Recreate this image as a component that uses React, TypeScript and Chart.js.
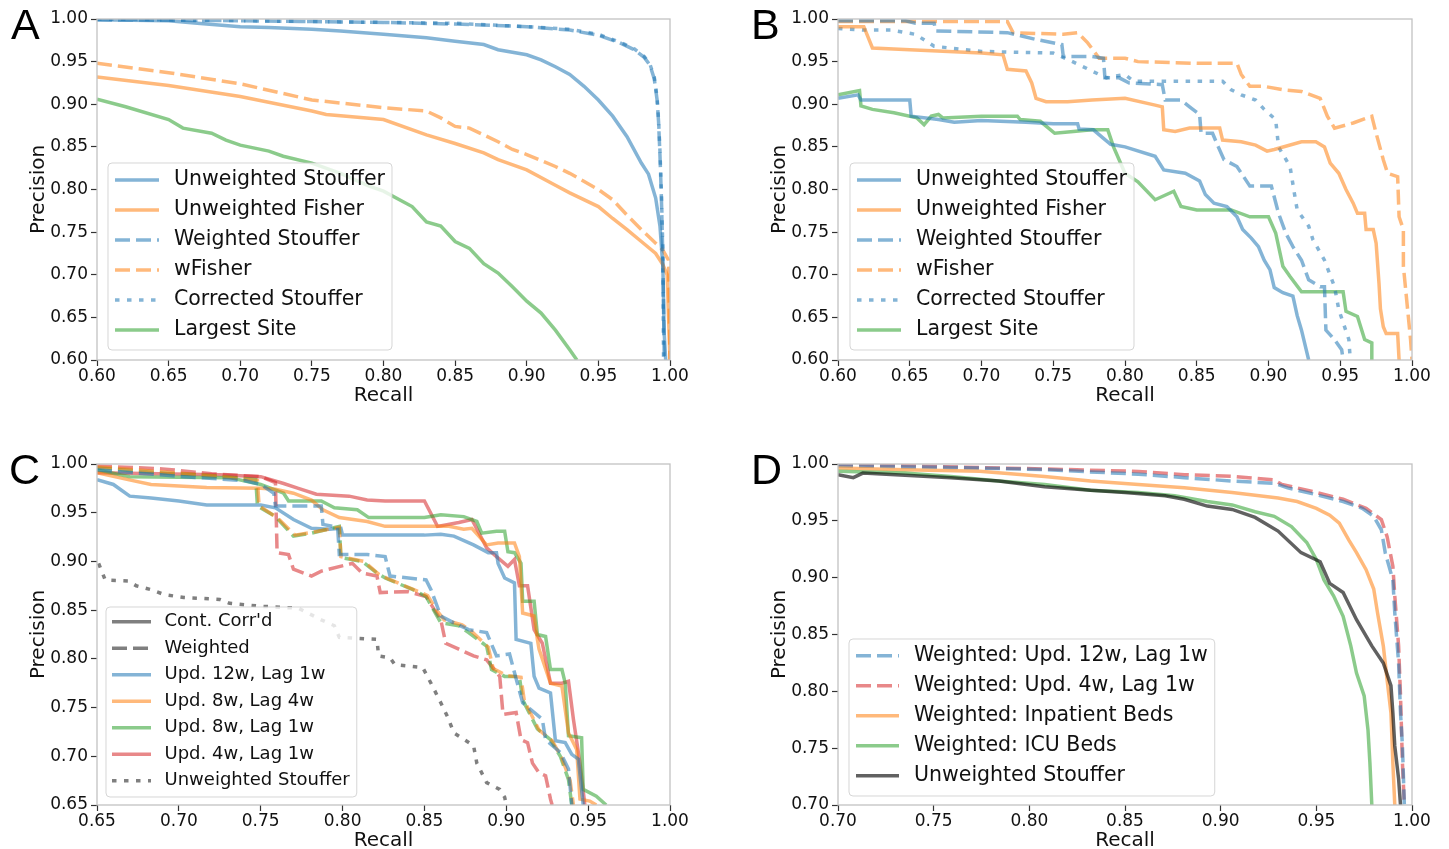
import React, { useEffect, useRef } from 'react';
import { Chart, registerables } from 'chart.js';

Chart.register(...registerables);

type P = [number, number];

// ---------------- Panel A ----------------
const A_UNW_STOUFFER: P[] = [[0.600,0.999],[0.650,0.998],[0.670,0.995],[0.700,0.991],[0.720,0.990],[0.750,0.988],[0.770,0.986],[0.800,0.982],[0.830,0.978],[0.850,0.974],[0.870,0.970],[0.880,0.964],[0.900,0.958],[0.910,0.952],[0.920,0.944],[0.930,0.935],[0.940,0.921],[0.950,0.905],[0.960,0.886],[0.970,0.862],[0.980,0.831],[0.985,0.818],[0.990,0.790],[0.993,0.757],[0.995,0.710],[0.996,0.630],[0.997,0.600]];
const A_UNW_FISHER: P[] = [[0.600,0.932],[0.650,0.922],[0.700,0.909],[0.750,0.892],[0.760,0.888],[0.800,0.882],[0.830,0.864],[0.850,0.854],[0.870,0.843],[0.880,0.835],[0.900,0.823],[0.920,0.805],[0.930,0.796],[0.950,0.780],[0.960,0.766],[0.970,0.753],[0.980,0.739],[0.990,0.725],[0.995,0.712],[0.998,0.700],[0.999,0.650],[1.000,0.600]];
const A_W_STOUFFER: P[] = [[0.600,0.999],[0.700,0.998],[0.750,0.997],[0.800,0.996],[0.850,0.994],[0.900,0.991],[0.930,0.987],[0.950,0.981],[0.965,0.972],[0.975,0.964],[0.982,0.955],[0.986,0.946],[0.989,0.930],[0.991,0.905],[0.992,0.880],[0.993,0.840],[0.994,0.790],[0.995,0.720],[0.996,0.600]];
const A_WFISHER: P[] = [[0.600,0.948],[0.650,0.937],[0.700,0.924],[0.750,0.905],[0.800,0.896],[0.830,0.892],[0.840,0.884],[0.850,0.874],[0.860,0.872],[0.870,0.864],[0.880,0.856],[0.890,0.847],[0.900,0.841],[0.920,0.827],[0.930,0.819],[0.950,0.800],[0.960,0.788],[0.970,0.770],[0.980,0.753],[0.990,0.737],[0.995,0.729],[0.999,0.717],[1.000,0.600]];
const A_CORR_STOUFFER: P[] = [[0.600,1.000],[0.700,0.998],[0.800,0.996],[0.850,0.995],[0.900,0.991],[0.930,0.988],[0.950,0.982],[0.965,0.973],[0.975,0.965],[0.982,0.956],[0.986,0.947],[0.989,0.932],[0.991,0.908],[0.992,0.882],[0.993,0.845],[0.994,0.795],[0.995,0.730],[0.9955,0.600]];
const A_LARGEST: P[] = [[0.600,0.906],[0.620,0.897],[0.650,0.882],[0.660,0.872],[0.680,0.866],[0.690,0.858],[0.700,0.852],[0.720,0.845],[0.730,0.839],[0.750,0.831],[0.770,0.819],[0.790,0.804],[0.800,0.798],[0.820,0.780],[0.830,0.762],[0.840,0.757],[0.850,0.739],[0.860,0.731],[0.870,0.713],[0.880,0.702],[0.890,0.686],[0.900,0.669],[0.910,0.655],[0.920,0.635],[0.930,0.612],[0.935,0.600]];

// ---------------- Panel B ----------------
const B_UNW_STOUFFER: P[] = [[0.600,0.907],[0.614,0.911],[0.616,0.905],[0.650,0.905],[0.651,0.886],[0.670,0.882],[0.681,0.879],[0.700,0.881],[0.731,0.879],[0.750,0.877],[0.767,0.877],[0.768,0.871],[0.778,0.870],[0.785,0.860],[0.790,0.853],[0.800,0.850],[0.821,0.839],[0.827,0.823],[0.842,0.819],[0.852,0.810],[0.856,0.794],[0.862,0.784],[0.871,0.780],[0.878,0.768],[0.882,0.753],[0.888,0.743],[0.893,0.733],[0.897,0.717],[0.901,0.706],[0.904,0.685],[0.910,0.679],[0.917,0.675],[0.920,0.652],[0.923,0.635],[0.928,0.600]];
const B_UNW_FISHER: P[] = [[0.600,0.991],[0.618,0.991],[0.624,0.966],[0.650,0.964],[0.700,0.960],[0.715,0.958],[0.718,0.941],[0.731,0.939],[0.735,0.925],[0.738,0.907],[0.745,0.903],[0.760,0.903],[0.777,0.905],[0.800,0.907],[0.821,0.899],[0.826,0.897],[0.827,0.870],[0.835,0.868],[0.845,0.872],[0.866,0.872],[0.868,0.858],[0.881,0.856],[0.891,0.852],[0.899,0.845],[0.904,0.847],[0.923,0.856],[0.933,0.856],[0.939,0.850],[0.943,0.831],[0.949,0.819],[0.954,0.800],[0.959,0.784],[0.962,0.772],[0.967,0.772],[0.968,0.753],[0.973,0.753],[0.975,0.737],[0.977,0.690],[0.978,0.660],[0.980,0.639],[0.982,0.631],[0.990,0.631],[0.991,0.600]];
const B_W_STOUFFER: P[] = [[0.600,0.998],[0.647,0.998],[0.654,0.995],[0.667,0.995],[0.668,0.986],[0.718,0.984],[0.728,0.980],[0.738,0.976],[0.756,0.970],[0.757,0.956],[0.777,0.956],[0.785,0.954],[0.786,0.931],[0.796,0.931],[0.803,0.925],[0.826,0.923],[0.828,0.905],[0.839,0.905],[0.845,0.897],[0.852,0.888],[0.853,0.866],[0.861,0.866],[0.865,0.850],[0.869,0.835],[0.878,0.827],[0.887,0.804],[0.902,0.804],[0.907,0.772],[0.912,0.749],[0.917,0.733],[0.923,0.717],[0.928,0.694],[0.936,0.686],[0.939,0.686],[0.940,0.635],[0.946,0.624],[0.951,0.612],[0.952,0.600]];
const B_WFISHER: P[] = [[0.600,0.997],[0.718,0.997],[0.722,0.984],[0.757,0.982],[0.767,0.984],[0.774,0.972],[0.782,0.954],[0.800,0.954],[0.809,0.950],[0.850,0.948],[0.878,0.948],[0.881,0.935],[0.887,0.921],[0.897,0.921],[0.910,0.917],[0.923,0.915],[0.936,0.907],[0.941,0.886],[0.946,0.872],[0.959,0.878],[0.972,0.886],[0.975,0.866],[0.980,0.835],[0.983,0.819],[0.990,0.815],[0.991,0.768],[0.994,0.753],[0.994,0.710],[0.999,0.624],[1.000,0.600]];
const B_CORR_STOUFFER: P[] = [[0.600,0.989],[0.618,0.987],[0.637,0.987],[0.654,0.982],[0.667,0.968],[0.700,0.962],[0.750,0.960],[0.761,0.952],[0.777,0.939],[0.787,0.931],[0.800,0.935],[0.806,0.927],[0.868,0.927],[0.874,0.917],[0.881,0.911],[0.891,0.905],[0.897,0.894],[0.905,0.882],[0.907,0.850],[0.915,0.827],[0.918,0.796],[0.920,0.776],[0.928,0.757],[0.931,0.741],[0.939,0.717],[0.946,0.686],[0.949,0.659],[0.956,0.624],[0.957,0.600]];
const B_LARGEST: P[] = [[0.600,0.911],[0.615,0.916],[0.616,0.898],[0.624,0.894],[0.639,0.890],[0.655,0.884],[0.660,0.876],[0.665,0.886],[0.670,0.888],[0.673,0.884],[0.700,0.886],[0.725,0.886],[0.727,0.882],[0.741,0.880],[0.751,0.866],[0.764,0.868],[0.777,0.870],[0.788,0.870],[0.792,0.850],[0.800,0.819],[0.809,0.809],[0.821,0.788],[0.834,0.798],[0.839,0.780],[0.850,0.776],[0.874,0.776],[0.887,0.768],[0.900,0.768],[0.905,0.749],[0.910,0.710],[0.915,0.698],[0.923,0.680],[0.952,0.680],[0.954,0.657],[0.962,0.651],[0.967,0.624],[0.972,0.620],[0.972,0.600]];

// ---------------- Panel C ----------------
const C_CC_12W: P[] = [[0.650,0.984],[0.660,0.979],[0.670,0.967],[0.683,0.965],[0.700,0.962],[0.717,0.958],[0.750,0.958],[0.759,0.955],[0.770,0.943],[0.781,0.934],[0.792,0.933],[0.799,0.934],[0.800,0.927],[0.850,0.927],[0.860,0.928],[0.868,0.926],[0.880,0.917],[0.889,0.909],[0.894,0.909],[0.895,0.898],[0.899,0.883],[0.905,0.878],[0.906,0.820],[0.915,0.816],[0.917,0.782],[0.920,0.770],[0.927,0.765],[0.930,0.716],[0.936,0.714],[0.940,0.702],[0.944,0.697],[0.947,0.650]];
const C_CC_8W4: P[] = [[0.650,0.991],[0.669,0.984],[0.683,0.979],[0.717,0.976],[0.750,0.975],[0.759,0.974],[0.770,0.970],[0.781,0.963],[0.788,0.953],[0.798,0.945],[0.815,0.941],[0.826,0.936],[0.865,0.936],[0.874,0.933],[0.879,0.934],[0.888,0.917],[0.895,0.919],[0.905,0.919],[0.908,0.905],[0.910,0.847],[0.917,0.844],[0.919,0.820],[0.920,0.810],[0.927,0.775],[0.934,0.772],[0.938,0.724],[0.943,0.707],[0.945,0.656],[0.951,0.654],[0.955,0.650]];
const C_CC_8W1: P[] = [[0.650,0.994],[0.670,0.987],[0.731,0.986],[0.750,0.979],[0.764,0.970],[0.767,0.962],[0.787,0.962],[0.795,0.955],[0.809,0.953],[0.816,0.945],[0.850,0.945],[0.860,0.948],[0.874,0.946],[0.882,0.941],[0.885,0.929],[0.894,0.931],[0.899,0.931],[0.901,0.910],[0.905,0.909],[0.909,0.898],[0.910,0.859],[0.917,0.859],[0.919,0.825],[0.924,0.823],[0.927,0.789],[0.934,0.789],[0.936,0.775],[0.938,0.721],[0.946,0.719],[0.947,0.666],[0.955,0.659],[0.961,0.650]];
const C_CC_4W1: P[] = [[0.650,0.991],[0.725,0.989],[0.750,0.987],[0.764,0.980],[0.773,0.975],[0.784,0.969],[0.804,0.967],[0.815,0.963],[0.826,0.962],[0.850,0.962],[0.858,0.936],[0.871,0.940],[0.879,0.943],[0.888,0.914],[0.894,0.905],[0.901,0.895],[0.905,0.902],[0.908,0.875],[0.913,0.875],[0.917,0.830],[0.922,0.816],[0.927,0.775],[0.934,0.775],[0.938,0.777],[0.941,0.738],[0.945,0.693],[0.948,0.650]];
const C_W_12W: P[] = [[0.650,0.994],[0.680,0.990],[0.703,0.987],[0.740,0.983],[0.750,0.979],[0.758,0.970],[0.759,0.957],[0.787,0.957],[0.788,0.938],[0.797,0.935],[0.798,0.907],[0.815,0.907],[0.826,0.905],[0.829,0.885],[0.851,0.881],[0.854,0.871],[0.860,0.844],[0.868,0.837],[0.877,0.830],[0.888,0.827],[0.894,0.803],[0.902,0.805],[0.905,0.786],[0.910,0.755],[0.922,0.738],[0.924,0.717],[0.933,0.704],[0.938,0.687],[0.940,0.650]];
const C_W_8W4: P[] = [[0.650,0.997],[0.690,0.992],[0.720,0.988],[0.748,0.983],[0.749,0.957],[0.760,0.945],[0.771,0.927],[0.782,0.930],[0.798,0.935],[0.799,0.905],[0.813,0.900],[0.822,0.887],[0.828,0.882],[0.845,0.870],[0.852,0.865],[0.857,0.851],[0.862,0.840],[0.873,0.835],[0.879,0.828],[0.889,0.812],[0.892,0.790],[0.900,0.783],[0.909,0.781],[0.911,0.757],[0.920,0.727],[0.928,0.716],[0.934,0.698],[0.939,0.675],[0.941,0.650]];
const C_W_8W1: P[] = [[0.650,0.996],[0.688,0.991],[0.720,0.988],[0.747,0.984],[0.748,0.957],[0.759,0.946],[0.770,0.926],[0.781,0.929],[0.798,0.936],[0.799,0.904],[0.812,0.900],[0.821,0.888],[0.826,0.883],[0.843,0.871],[0.851,0.864],[0.856,0.849],[0.860,0.837],[0.871,0.834],[0.877,0.827],[0.888,0.813],[0.891,0.789],[0.899,0.782],[0.908,0.782],[0.910,0.758],[0.919,0.728],[0.927,0.717],[0.933,0.700],[0.938,0.676],[0.940,0.650]];
const C_W_4W1: P[] = [[0.650,0.998],[0.690,0.995],[0.720,0.990],[0.750,0.987],[0.759,0.981],[0.760,0.909],[0.767,0.907],[0.770,0.892],[0.781,0.885],[0.787,0.890],[0.806,0.898],[0.812,0.888],[0.821,0.885],[0.823,0.868],[0.840,0.869],[0.851,0.864],[0.860,0.840],[0.863,0.816],[0.871,0.810],[0.880,0.803],[0.888,0.799],[0.896,0.782],[0.898,0.743],[0.906,0.745],[0.909,0.717],[0.913,0.714],[0.916,0.693],[0.920,0.683],[0.924,0.680],[0.927,0.656],[0.928,0.650]];
const C_UNW_STOUFFER: P[] = [[0.651,0.898],[0.655,0.881],[0.669,0.880],[0.674,0.875],[0.683,0.871],[0.691,0.866],[0.703,0.863],[0.725,0.861],[0.731,0.857],[0.750,0.854],[0.773,0.852],[0.787,0.840],[0.795,0.834],[0.798,0.822],[0.821,0.820],[0.822,0.803],[0.829,0.801],[0.832,0.794],[0.849,0.791],[0.854,0.775],[0.860,0.755],[0.864,0.741],[0.868,0.724],[0.880,0.711],[0.882,0.693],[0.888,0.673],[0.896,0.666],[0.899,0.658],[0.900,0.650]];

// ---------------- Panel D ----------------
const D_W_12W: P[] = [[0.700,0.9985],[0.759,0.997],[0.808,0.995],[0.857,0.991],[0.881,0.988],[0.906,0.985],[0.928,0.983],[0.935,0.979],[0.950,0.973],[0.964,0.967],[0.974,0.961],[0.980,0.954],[0.984,0.942],[0.986,0.922],[0.990,0.898],[0.991,0.869],[0.993,0.825],[0.994,0.781],[0.995,0.752],[0.996,0.700]];
const D_W_4W: P[] = [[0.700,0.9997],[0.808,0.9956],[0.857,0.9935],[0.881,0.9906],[0.906,0.9892],[0.928,0.986],[0.932,0.982],[0.950,0.975],[0.964,0.969],[0.976,0.961],[0.984,0.951],[0.987,0.936],[0.990,0.910],[0.991,0.884],[0.993,0.840],[0.994,0.796],[0.995,0.737],[0.996,0.700]];
const D_INPATIENT: P[] = [[0.700,0.9965],[0.735,0.995],[0.774,0.9936],[0.808,0.989],[0.832,0.985],[0.857,0.982],[0.881,0.979],[0.906,0.975],[0.930,0.970],[0.940,0.967],[0.950,0.961],[0.957,0.955],[0.962,0.948],[0.967,0.933],[0.971,0.922],[0.976,0.907],[0.980,0.890],[0.982,0.869],[0.985,0.840],[0.987,0.810],[0.989,0.781],[0.990,0.737],[0.991,0.700]];
const D_ICU: P[] = [[0.700,0.9936],[0.735,0.992],[0.759,0.989],[0.784,0.985],[0.808,0.982],[0.832,0.977],[0.857,0.975],[0.876,0.972],[0.893,0.967],[0.906,0.964],[0.918,0.958],[0.928,0.954],[0.937,0.945],[0.945,0.931],[0.950,0.916],[0.954,0.898],[0.959,0.884],[0.964,0.866],[0.968,0.840],[0.971,0.816],[0.975,0.796],[0.977,0.766],[0.978,0.737],[0.979,0.700]];
const D_UNW_STOUFFER: P[] = [[0.700,0.9906],[0.708,0.988],[0.713,0.992],[0.735,0.990],[0.759,0.988],[0.784,0.985],[0.808,0.980],[0.832,0.977],[0.850,0.975],[0.871,0.972],[0.881,0.969],[0.893,0.963],[0.906,0.960],[0.918,0.953],[0.930,0.941],[0.942,0.922],[0.952,0.914],[0.957,0.895],[0.964,0.887],[0.971,0.863],[0.979,0.840],[0.985,0.825],[0.989,0.805],[0.990,0.781],[0.991,0.752],[0.993,0.723],[0.994,0.700]];

// ---------------- ticks & labels ----------------
const TICKS_060 = [0.60, 0.65, 0.70, 0.75, 0.80, 0.85, 0.90, 0.95, 1.00];
const TICKS_065 = [0.65, 0.70, 0.75, 0.80, 0.85, 0.90, 0.95, 1.00];
const TICKS_070 = [0.70, 0.75, 0.80, 0.85, 0.90, 0.95, 1.00];

const LABELS_AB = ['Unweighted Stouffer', 'Unweighted Fisher', 'Weighted Stouffer', 'wFisher', 'Corrected Stouffer', 'Largest Site'];
const LABELS_C = ["Cont. Corr'd", 'Weighted', 'Upd. 12w, Lag 1w', 'Upd. 8w, Lag 4w', 'Upd. 8w, Lag 1w', 'Upd. 4w, Lag 1w', 'Unweighted Stouffer'];
const LABELS_D = ['Weighted: Upd. 12w, Lag 1w', 'Weighted: Upd. 4w, Lag 1w', 'Weighted: Inpatient Beds', 'Weighted: ICU Beds', 'Unweighted Stouffer'];

// ---------------- styles ----------------
const FONT = '"DejaVu Sans", sans-serif';
const TEXT = '#111111';
const BLUE = 'rgba(31,119,180,0.55)';
const ORANGE = 'rgba(255,127,14,0.55)';
const GREEN = 'rgba(44,160,44,0.55)';
const RED = 'rgba(214,39,40,0.55)';
const GRAY = 'rgba(0,0,0,0.5)';
const DARK = 'rgba(0,0,0,0.62)';
const SOLID: number[] = [];
const DASH = [15, 6];
const DOT = [4.5, 7.5];
const LINE_W = 3.5;

interface Series { data: P[]; color: string; dash: number[]; }
interface LegendItem { label: string; color: string; dash: number[]; }
interface LegendCfg { x: number; y: number; h: number; firstY: number; rowGap: number; lineX1: number; lineX2: number; textX: number; fontSize: number; padRight: number; items: LegendItem[]; }
interface PanelCfg {
  letter: string; letterLeft: number; letterTop: number;
  left: number; top: number; width: number; height: number;
  area: { l: number; t: number; r: number; b: number };
  xMin: number; xMax: number; yMin: number; yMax: number;
  xTicks: number[]; yTicks: number[];
  series: Series[]; legend: LegendCfg;
}

const abStyles: [string, number[]][] = [[BLUE, SOLID], [ORANGE, SOLID], [BLUE, DASH], [ORANGE, DASH], [BLUE, DOT], [GREEN, SOLID]];

const PANELS: PanelCfg[] = [
  {
    letter: 'A', letterLeft: 11, letterTop: 3,
    left: 0, top: 0, width: 725, height: 430,
    area: { l: 97, t: 19, r: 670, b: 360 },
    xMin: 0.6, xMax: 1.0, yMin: 0.6, yMax: 1.0, xTicks: TICKS_060, yTicks: TICKS_060,
    series: [A_UNW_STOUFFER, A_UNW_FISHER, A_W_STOUFFER, A_WFISHER, A_CORR_STOUFFER, A_LARGEST].map((d, i) => ({ data: d, color: abStyles[i][0], dash: abStyles[i][1] })),
    legend: { x: 108, y: 163, h: 187, firstY: 180, rowGap: 30, lineX1: 115, lineX2: 159, textX: 174, fontSize: 20.5, padRight: 7,
      items: LABELS_AB.map((l, i) => ({ label: l, color: abStyles[i][0], dash: abStyles[i][1] })) },
  },
  {
    letter: 'B', letterLeft: 751, letterTop: 3,
    left: 725, top: 0, width: 724, height: 430,
    area: { l: 113, t: 19, r: 687, b: 360 },
    xMin: 0.6, xMax: 1.0, yMin: 0.6, yMax: 1.0, xTicks: TICKS_060, yTicks: TICKS_060,
    series: [B_UNW_STOUFFER, B_UNW_FISHER, B_W_STOUFFER, B_WFISHER, B_CORR_STOUFFER, B_LARGEST].map((d, i) => ({ data: d, color: abStyles[i][0], dash: abStyles[i][1] })),
    legend: { x: 125, y: 163, h: 187, firstY: 180, rowGap: 30, lineX1: 132, lineX2: 176, textX: 191, fontSize: 20.5, padRight: 7,
      items: LABELS_AB.map((l, i) => ({ label: l, color: abStyles[i][0], dash: abStyles[i][1] })) },
  },
  {
    letter: 'C', letterLeft: 9, letterTop: 448,
    left: 0, top: 430, width: 725, height: 450,
    area: { l: 97, t: 34, r: 670, b: 375 },
    xMin: 0.65, xMax: 1.0, yMin: 0.65, yMax: 1.0, xTicks: TICKS_065, yTicks: TICKS_065,
    series: [
      { data: C_UNW_STOUFFER, color: GRAY, dash: DOT },
      { data: C_W_12W, color: BLUE, dash: DASH },
      { data: C_W_8W4, color: ORANGE, dash: DASH },
      { data: C_W_8W1, color: GREEN, dash: DASH },
      { data: C_W_4W1, color: RED, dash: DASH },
      { data: C_CC_12W, color: BLUE, dash: SOLID },
      { data: C_CC_8W4, color: ORANGE, dash: SOLID },
      { data: C_CC_8W1, color: GREEN, dash: SOLID },
      { data: C_CC_4W1, color: RED, dash: SOLID },
    ],
    legend: { x: 106, y: 177, h: 190, firstY: 191.7, rowGap: 26.5, lineX1: 112, lineX2: 151, textX: 164.5, fontSize: 18, padRight: 7,
      items: [
        { label: LABELS_C[0], color: GRAY, dash: SOLID },
        { label: LABELS_C[1], color: GRAY, dash: DASH },
        { label: LABELS_C[2], color: BLUE, dash: SOLID },
        { label: LABELS_C[3], color: ORANGE, dash: SOLID },
        { label: LABELS_C[4], color: GREEN, dash: SOLID },
        { label: LABELS_C[5], color: RED, dash: SOLID },
        { label: LABELS_C[6], color: GRAY, dash: DOT },
      ] },
  },
  {
    letter: 'D', letterLeft: 751, letterTop: 448,
    left: 725, top: 430, width: 724, height: 450,
    area: { l: 113, t: 34, r: 687, b: 375 },
    xMin: 0.7, xMax: 1.0, yMin: 0.7, yMax: 1.0, xTicks: TICKS_070, yTicks: TICKS_070,
    series: [
      { data: D_UNW_STOUFFER, color: DARK, dash: SOLID },
      { data: D_ICU, color: GREEN, dash: SOLID },
      { data: D_INPATIENT, color: ORANGE, dash: SOLID },
      { data: D_W_12W, color: BLUE, dash: DASH },
      { data: D_W_4W, color: RED, dash: DASH },
    ],
    legend: { x: 124, y: 209, h: 157, firstY: 225.7, rowGap: 30, lineX1: 131, lineX2: 174, textX: 189, fontSize: 20.5, padRight: 7,
      items: [
        { label: LABELS_D[0], color: BLUE, dash: DASH },
        { label: LABELS_D[1], color: RED, dash: DASH },
        { label: LABELS_D[2], color: ORANGE, dash: SOLID },
        { label: LABELS_D[3], color: GREEN, dash: SOLID },
        { label: LABELS_D[4], color: DARK, dash: SOLID },
      ] },
  },
];

function makeDecor(lg: LegendCfg) {
  return {
    id: 'panelDecor',
    afterDraw(chart: any) {
      const { ctx, chartArea: ca } = chart;
      ctx.save();
      ctx.setLineDash([]);
      ctx.strokeStyle = '#c2c2c2';
      ctx.lineWidth = 1.3;
      ctx.strokeRect(ca.left, ca.top, ca.right - ca.left, ca.bottom - ca.top);

      ctx.font = `${lg.fontSize}px ${FONT}`;
      let maxW = 0;
      for (const it of lg.items) maxW = Math.max(maxW, ctx.measureText(it.label).width);
      const x = lg.x, y = lg.y, w = lg.textX + maxW + lg.padRight - lg.x, h = lg.h, r = 4;
      ctx.beginPath();
      ctx.moveTo(x + r, y);
      ctx.lineTo(x + w - r, y);
      ctx.arcTo(x + w, y, x + w, y + r, r);
      ctx.lineTo(x + w, y + h - r);
      ctx.arcTo(x + w, y + h, x + w - r, y + h, r);
      ctx.lineTo(x + r, y + h);
      ctx.arcTo(x, y + h, x, y + h - r, r);
      ctx.lineTo(x, y + r);
      ctx.arcTo(x, y, x + r, y, r);
      ctx.closePath();
      ctx.fillStyle = 'rgba(255,255,255,0.8)';
      ctx.fill();
      ctx.strokeStyle = 'rgba(204,204,204,0.8)';
      ctx.lineWidth = 1;
      ctx.stroke();

      lg.items.forEach((it, i) => {
        const cy = lg.firstY + i * lg.rowGap;
        ctx.setLineDash(it.dash);
        ctx.lineCap = 'butt';
        ctx.strokeStyle = it.color;
        ctx.lineWidth = LINE_W;
        ctx.beginPath();
        ctx.moveTo(lg.lineX1, cy);
        ctx.lineTo(lg.lineX2, cy);
        ctx.stroke();
        ctx.setLineDash([]);
        ctx.fillStyle = TEXT;
        ctx.textBaseline = 'middle';
        ctx.textAlign = 'left';
        ctx.fillText(it.label, lg.textX, cy);
      });
      ctx.restore();
    },
  };
}

function Panel({ cfg }: { cfg: PanelCfg }) {
  const ref = useRef<HTMLCanvasElement | null>(null);
  useEffect(() => {
    if (!ref.current) return;
    const a = cfg.area;
    const yAxisW = a.l;
    const xAxisH = cfg.height - a.b;
    const tickFont = { family: FONT, size: 17 };
    const titleFont = { family: FONT, size: 20 };
    const grid = { display: true, drawOnChartArea: false, drawTicks: true, tickLength: 6, tickColor: '#333333', tickWidth: 1.2, color: '#333333' };
    const chart = new Chart(ref.current, {
      type: 'scatter',
      data: {
        datasets: cfg.series.map((s) => ({
          data: s.data.map(([x, y]) => ({ x, y })),
          showLine: true,
          borderColor: s.color,
          backgroundColor: s.color,
          borderWidth: LINE_W,
          borderDash: s.dash,
          borderCapStyle: 'butt',
          borderJoinStyle: 'miter',
          pointRadius: 0,
          pointHoverRadius: 0,
          tension: 0,
          fill: false,
          clip: 0,
        })),
      },
      options: {
        animation: false,
        responsive: false,
        maintainAspectRatio: false,
        devicePixelRatio: 1,
        events: [],
        layout: { padding: { left: 0, top: a.t, right: cfg.width - a.r, bottom: 0 } },
        plugins: { legend: { display: false }, tooltip: { enabled: false } },
        scales: {
          x: {
            type: 'linear', min: cfg.xMin, max: cfg.xMax,
            afterBuildTicks: (s: any) => { s.ticks = cfg.xTicks.map((v) => ({ value: v })); },
            afterFit: (s: any) => { s.height = xAxisH; },
            ticks: { font: tickFont, color: TEXT, padding: 0, autoSkip: false, maxRotation: 0, callback: (v: any) => Number(v).toFixed(2) },
            grid,
            border: { display: false },
            title: { display: true, text: 'Recall', font: titleFont, color: TEXT, padding: { top: 0, bottom: xAxisH - 48 } },
          },
          y: {
            type: 'linear', min: cfg.yMin, max: cfg.yMax,
            afterBuildTicks: (s: any) => { s.ticks = cfg.yTicks.map((v) => ({ value: v })); },
            afterFit: (s: any) => { s.width = yAxisW; },
            ticks: { font: tickFont, color: TEXT, padding: 3, autoSkip: false, callback: (v: any) => Number(v).toFixed(2) },
            grid,
            border: { display: false },
            title: { display: true, text: 'Precision', font: titleFont, color: TEXT, padding: { top: yAxisW - 70, bottom: 0 } },
          },
        },
      } as any,
      plugins: [makeDecor(cfg.legend)],
    });
    return () => chart.destroy();
  }, [cfg]);
  return (
    <>
      <canvas ref={ref} width={cfg.width} height={cfg.height}
        style={{ position: 'absolute', left: cfg.left, top: cfg.top, width: cfg.width, height: cfg.height }} />
      <div style={{ position: 'absolute', left: cfg.letterLeft, top: cfg.letterTop, fontFamily: '"Liberation Sans", Arial, sans-serif', fontSize: 43, lineHeight: '43px', color: '#000' }}>
        {cfg.letter}
      </div>
    </>
  );
}

export default function App() {
  useEffect(() => {
    document.body.style.margin = '0';
    document.body.style.overflow = 'hidden';
  }, []);
  return (
    <div style={{ position: 'relative', width: 1449, height: 849, overflow: 'hidden', background: '#ffffff' }}>
      {PANELS.map((p) => <Panel key={p.letter} cfg={p} />)}
    </div>
  );
}
